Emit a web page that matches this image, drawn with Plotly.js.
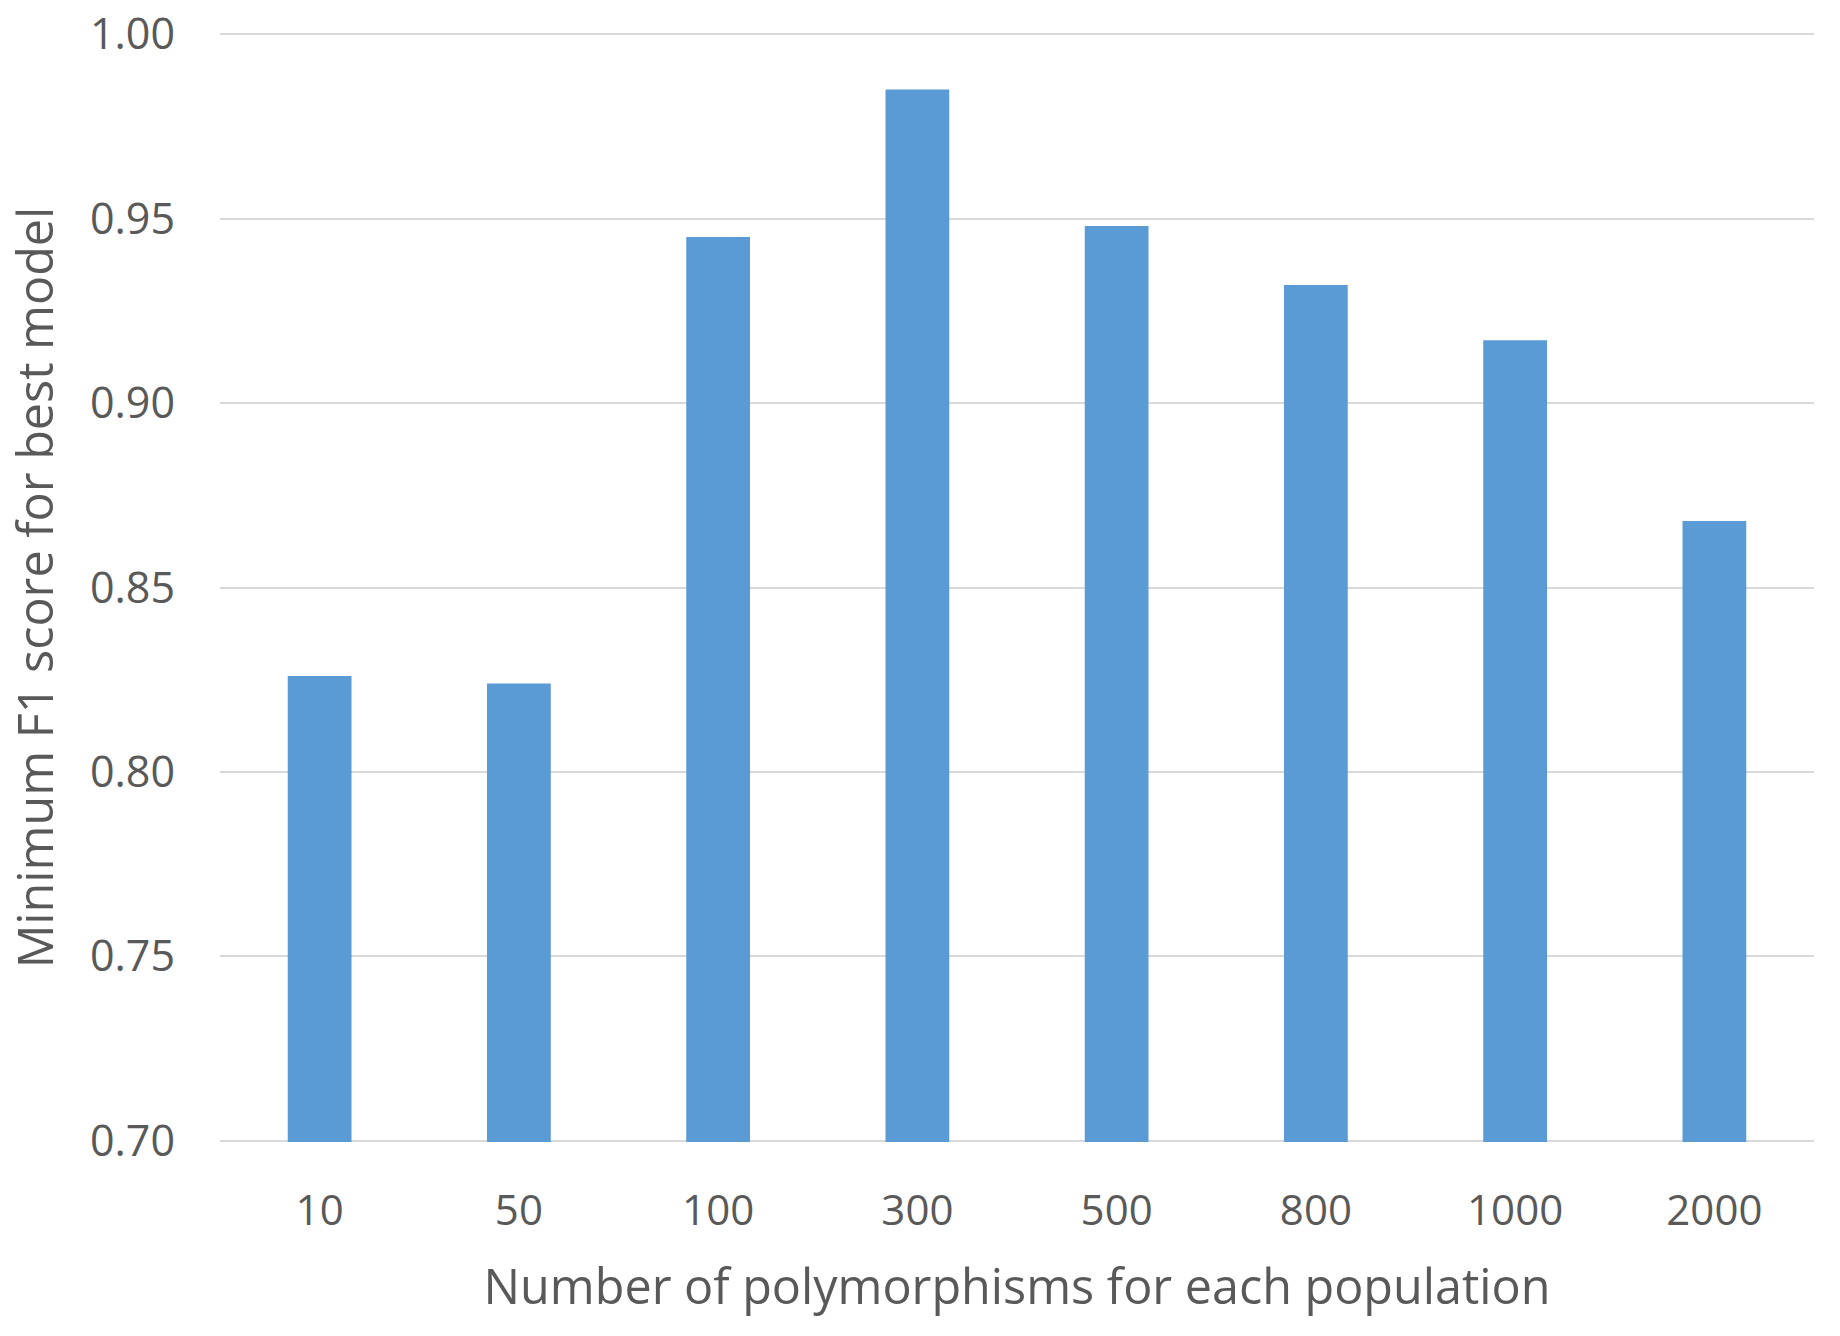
<!DOCTYPE html>
<html>
<head>
<meta charset="utf-8">
<script src="https://cdn.plot.ly/plotly-3.0.1.min.js"></script>
<style>html,body{margin:0;padding:0;background:#fff;}#chart{width:1840px;height:1336px;}</style>
</head>
<body>
<div id="chart"></div>
<script>
const categories = ["10", "50", "100", "300", "500", "800", "1000", "2000"];
const f1Scores = [0.826, 0.824, 0.945, 0.985, 0.948, 0.932, 0.917, 0.868];
const yTicks = [0.70, 0.75, 0.80, 0.85, 0.90, 0.95, 1.00];
const xTitle = "Number of polymorphisms for each population";
const yTitle = "Minimum F1 score for best model";

const FONT = "Open Sans, Noto Sans, sans-serif";
const TXT = "#595959";

Plotly.newPlot("chart", [{
  type: "bar",
  x: categories,
  y: f1Scores,
  marker: {color: "#5B9BD5"},
  hoverinfo: "x+y"
}], {
  width: 1840,
  height: 1336,
  margin: {l: 220, r: 26, t: 33, b: 194},
  paper_bgcolor: "#ffffff",
  plot_bgcolor: "#ffffff",
  bargap: 0.68,
  showlegend: false,
  font: {family: FONT, color: TXT, size: 44},
  xaxis: {
    type: "category",
    showgrid: false,
    showline: false,
    zeroline: false,
    ticks: "",
    ticklabelstandoff: 40,
    tickfont: {family: FONT, size: 42, color: TXT},
    automargin: false,
    title: {text: xTitle, font: {family: FONT, size: 48.5, color: TXT}, standoff: 34}
  },
  yaxis: {
    range: [0.6997, 1.0003],
    tickvals: yTicks,
    tickformat: ".2f",
    showgrid: true,
    gridcolor: "#D9D9D9",
    gridwidth: 2,
    showline: false,
    zeroline: false,
    ticks: "",
    ticklabelstandoff: 44,
    tickfont: {family: FONT, size: 43, color: TXT},
    automargin: false,
    title: {text: yTitle, font: {family: FONT, size: 48.5, color: TXT}, standoff: 20}
  }
}, {displayModeBar: false, staticPlot: true});
</script>
</body>
</html>
